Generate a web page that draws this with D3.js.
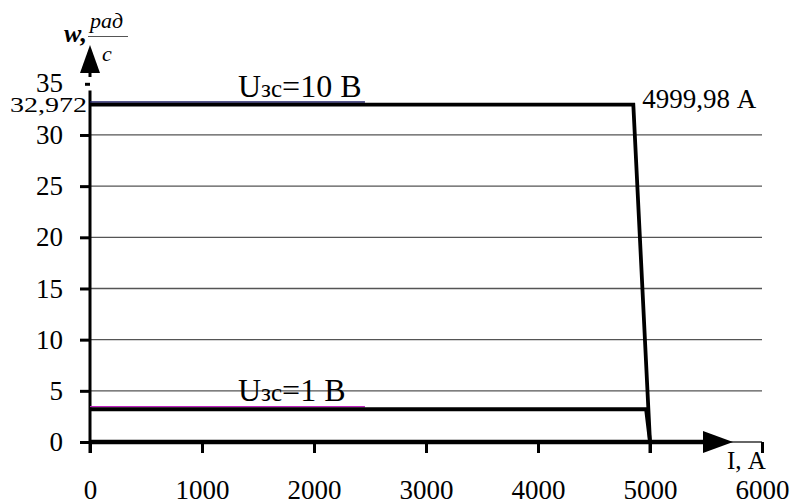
<!DOCTYPE html>
<html>
<head>
<meta charset="utf-8">
<script src="https://cdn.jsdelivr.net/npm/d3@7"></script>
<style>
body{margin:0;background:#fff;}
svg text{font-family:"Liberation Serif",serif !important;fill:#000;}
</style>
</head>
<body>
<script>
// data
var xTicks=[0,1000,2000,3000,4000,5000,6000];
var yTicks=[0,5,10,15,20,25,30,35];
var gridValues=[5,10,15,20,25,30];
var series10x=[0,4851,5000];
var series10y=[32.972,32.972,0];
var series1x=[0,4965,5000];
var series1y=[3.2,3.2,0];
var seriesNames=["Uзс=10 В","Uзс=1 В"];
var markValue=32.972;
var markText="32,972";
var cornerText="4999,98 А";

var W=795,H=504;
var svg=d3.select("body").append("svg").attr("width",W).attr("height",H)
	.attr("font-family","Liberation Serif");

var x=d3.scaleLinear().domain([0,6000]).range([90,762]);
var y=d3.scaleLinear().domain([0,35]).range([442,83.8]);

// horizontal grid
svg.selectAll("line.grid").data(gridValues).enter().append("line")
	.attr("class","grid")
	.attr("x1",x(0)).attr("x2",x(6000))
	.attr("y1",function(d){return y(d);}).attr("y2",function(d){return y(d);})
	.attr("stroke","#555").attr("stroke-width",1.3);
svg.append("line")
	.attr("x1",x(0)).attr("x2",x(6000)).attr("y1",y(0)).attr("y2",y(0))
	.attr("stroke","#333").attr("stroke-width",1.3);

// x axis
var xAxis=d3.axisBottom(x).tickValues(xTicks).tickSize(11).tickPadding(27).tickFormat(d3.format("d"));
var gx=svg.append("g").attr("transform","translate(0,"+y(0)+")").call(xAxis)
	.attr("font-family","Liberation Serif").attr("font-size",27);
gx.select(".domain").remove();
gx.selectAll(".tick line").attr("stroke","#000").attr("stroke-width",3);

// y axis
var yAxis=d3.axisLeft(y).tickValues(yTicks).tickSize(10).tickPadding(17);
var gy=svg.append("g").attr("transform","translate("+x(0)+",0)").call(yAxis)
	.attr("font-family","Liberation Serif").attr("font-size",27);
gy.select(".domain").remove();
gy.selectAll(".tick line").attr("stroke","#000").attr("stroke-width",3);
gy.selectAll(".tick").filter(function(d){return d===35;}).select("line").attr("x2",-5);
gy.selectAll(".tick").filter(function(d){return d===35;}).select("text").attr("dy","0.3em");

// axis lines
svg.append("line").attr("x1",x(0)).attr("x2",x(0))
	.attr("y1",y(34.35)).attr("y2",y(-1.08))
	.attr("stroke","#000").attr("stroke-width",3);
svg.append("line").attr("x1",x(0)).attr("x2",703)
	.attr("y1",y(0)).attr("y2",y(0))
	.attr("stroke","#000").attr("stroke-width",4.5);
svg.append("path").attr("d","M703,"+(y(0)-11)+"L733,"+y(0)+"L703,"+(y(0)+11)+"Z").attr("fill","#000");
svg.append("path").attr("d","M80,73L90,45L100,73Z").attr("fill","#000");
svg.append("line").attr("x1",90).attr("x2",90).attr("y1",72).attr("y2",77).attr("stroke","#000").attr("stroke-width",3);

// series
var line=d3.line().x(function(d){return x(d[0]);}).y(function(d){return y(d[1]);});
var s10=d3.zip(series10x,series10y);
var s1=d3.zip(series1x,series1y);
svg.append("path").attr("d",line([[0,series10y[0]],[2455,series10y[0]]]))
	.attr("transform","translate(0,-2.5)").attr("fill","none").attr("stroke","#22226a").attr("stroke-width",1.5);
svg.append("path").attr("d",line([[0,series1y[0]],[2455,series1y[0]]]))
	.attr("transform","translate(0,-2.5)").attr("fill","none").attr("stroke","#c020c0").attr("stroke-width",1.5);
svg.append("path").attr("d",line(s10)).attr("fill","none").attr("stroke","#000").attr("stroke-width",3.8).attr("stroke-linejoin","miter");
svg.append("path").attr("d",line(s1)).attr("fill","none").attr("stroke","#000").attr("stroke-width",3.8).attr("stroke-linejoin","miter");
svg.append("line").attr("x1",x(5000)).attr("x2",x(5000)).attr("y1",y(0)).attr("y2",y(0)+11).attr("stroke","#000").attr("stroke-width",3);

// series labels
function seriesLabel(name,yv){
	var t=svg.append("text").attr("x",238).attr("y",y(yv)-8).attr("font-size",32);
	t.append("tspan").text(name.slice(0,1));
	t.append("tspan").attr("font-size",25).text(name.slice(1,3));
	t.append("tspan").text(name.slice(3));
}
seriesLabel(seriesNames[0],series10y[0]);
seriesLabel(seriesNames[1],series1y[0]);

// value labels
svg.append("text").attr("x",10).attr("y",y(markValue)+7)
	.attr("textLength",77).attr("lengthAdjust","spacingAndGlyphs")
	.attr("font-size",21).text(markText);
svg.append("text").attr("x",x(series10x[1])+9).attr("y",y(markValue)+3)
	.attr("font-size",27).text(cornerText);

// axis titles
svg.append("text").attr("x",727).attr("y",469).attr("font-size",25).text("I, А");
svg.append("text").attr("x",64).attr("y",42).attr("font-size",26).attr("font-style","italic").attr("font-weight","bold").text("w,");
svg.append("text").attr("x",90).attr("y",28).attr("font-size",22).attr("font-style","italic").text("рад");
svg.append("line").attr("x1",88).attr("x2",128).attr("y1",36.5).attr("y2",36.5).attr("stroke","#555").attr("stroke-width",1.2);
svg.append("text").attr("x",102).attr("y",61).attr("font-size",22).attr("font-style","italic").text("с");
</script>
</body>
</html>
